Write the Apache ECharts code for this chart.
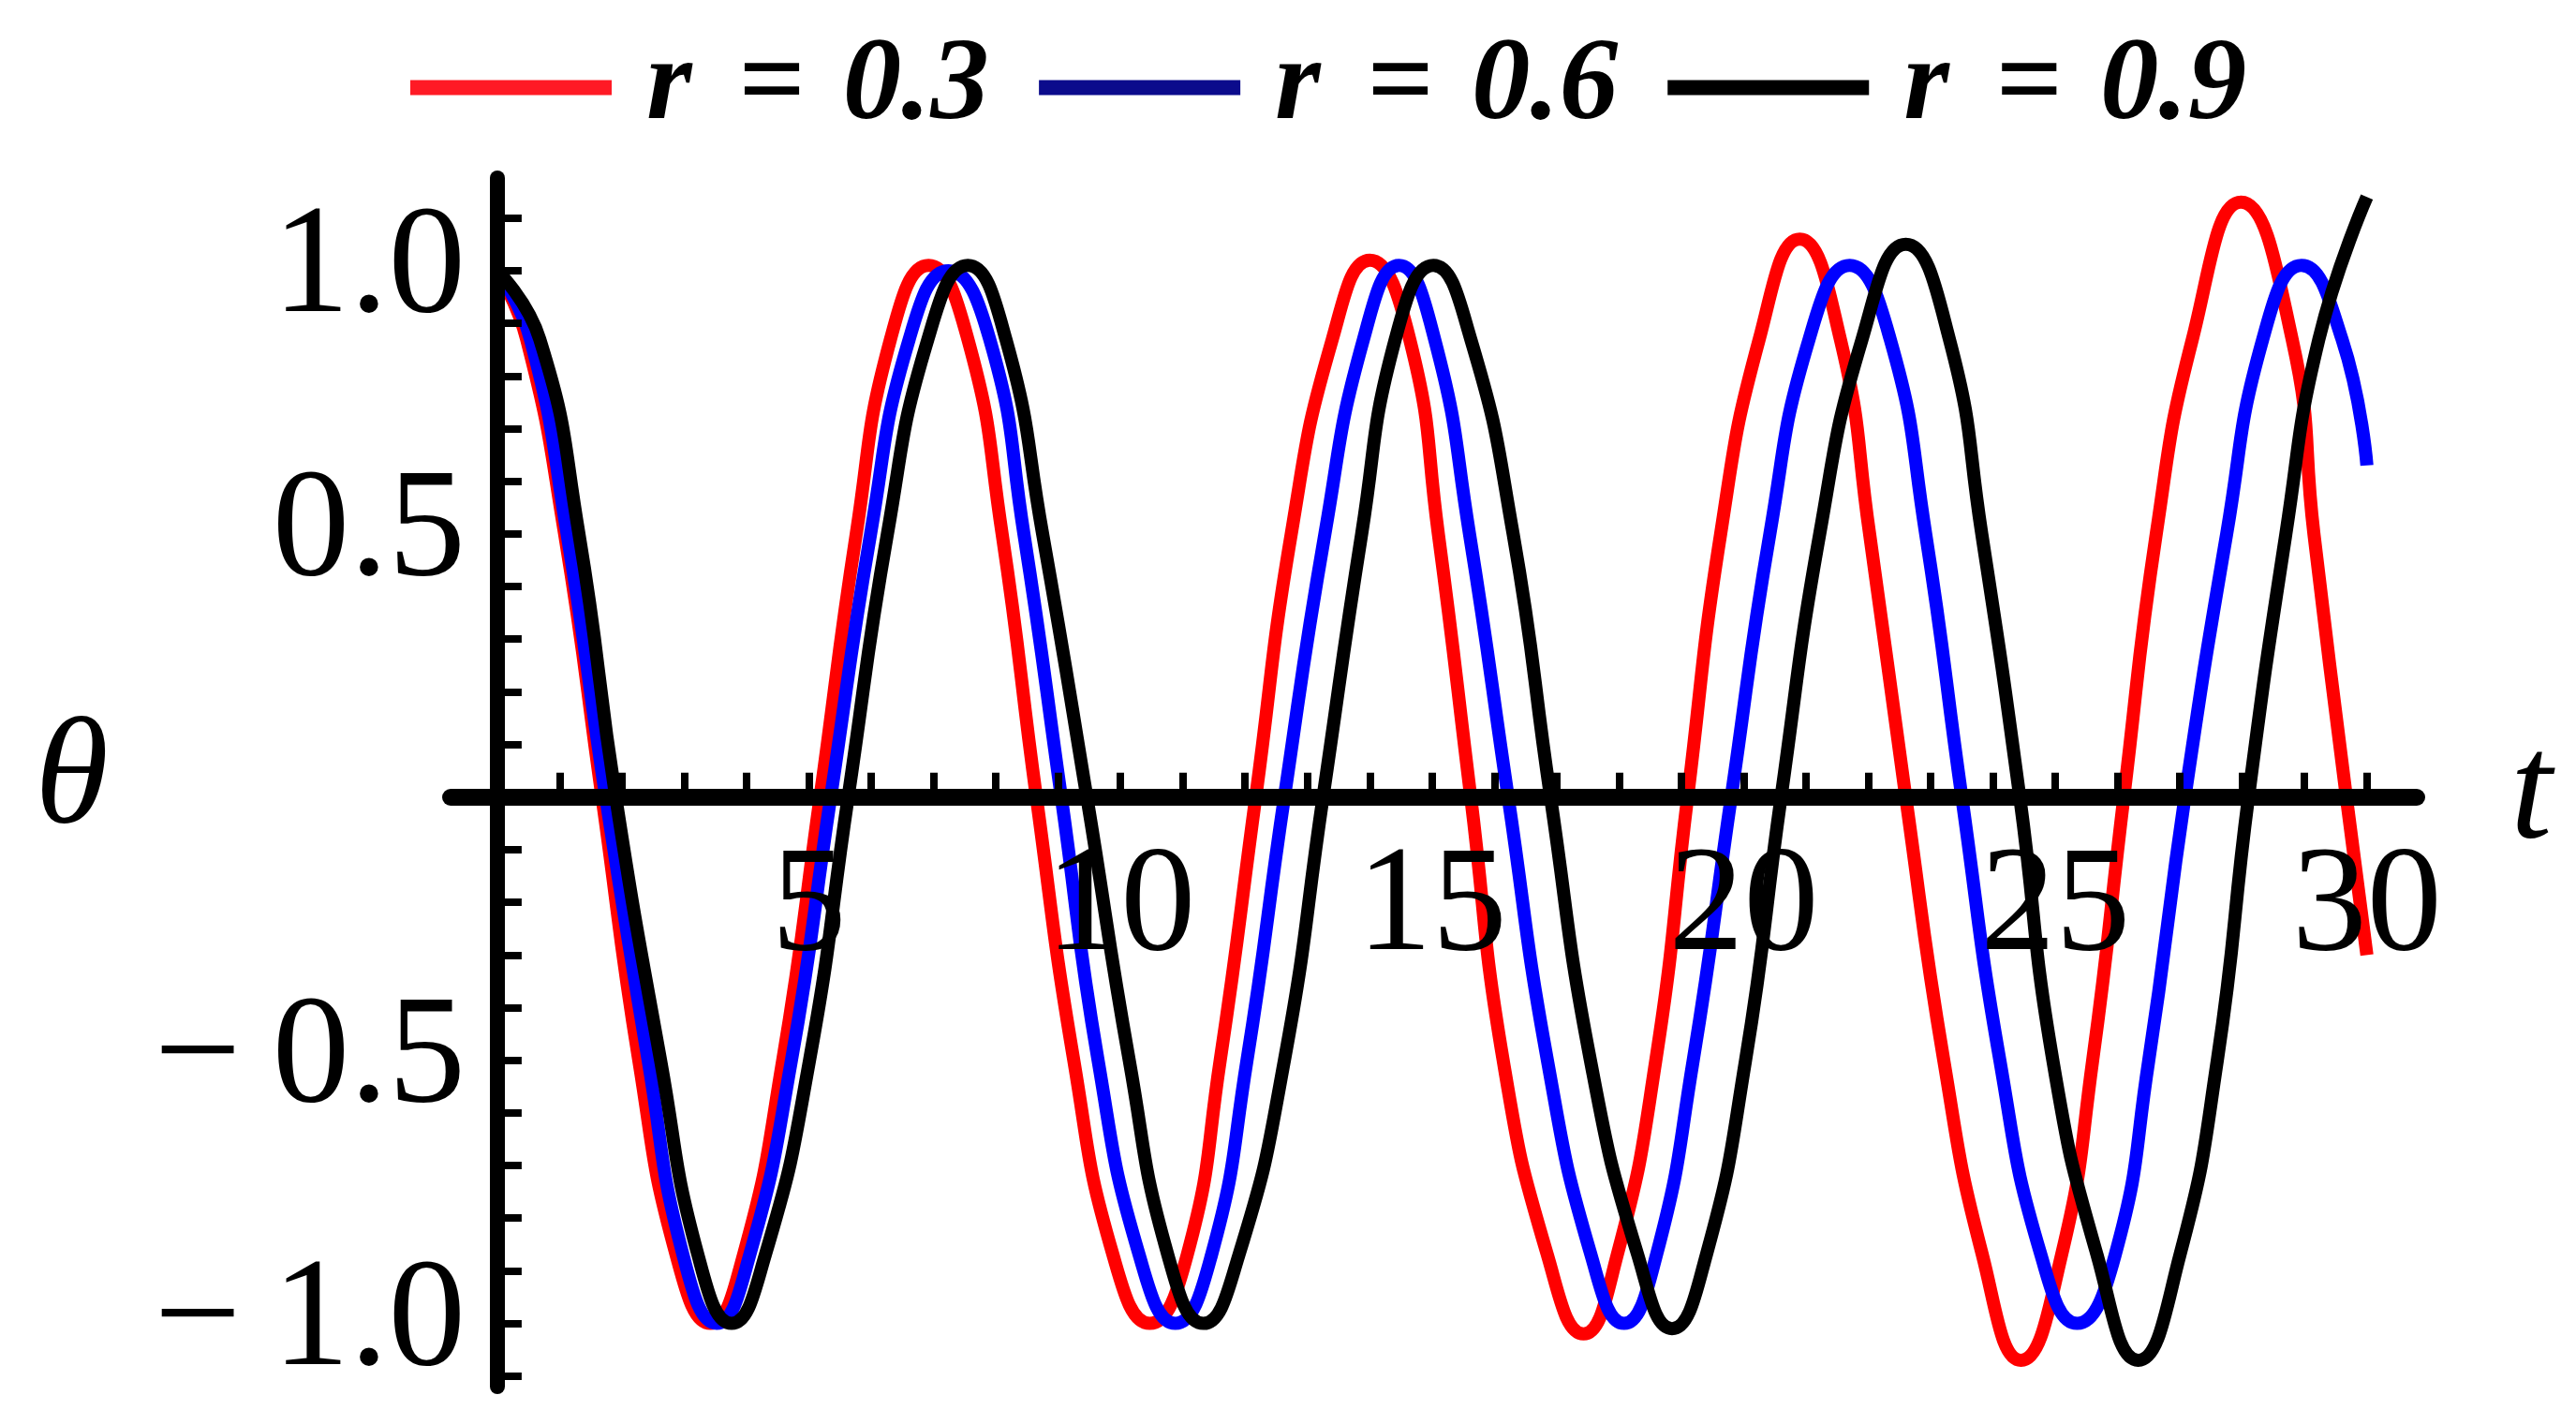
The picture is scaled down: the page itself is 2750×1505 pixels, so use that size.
<!DOCTYPE html>
<html><head><meta charset="utf-8">
<script src="https://cdn.jsdelivr.net/npm/echarts@6/dist/echarts.min.js"></script>
<style>html,body{margin:0;padding:0;background:#fff}#c{width:2750px;height:1505px}</style>
</head><body><div id="c"></div><script>
// legend values of r
const rValues = ['0.3', '0.6', '0.9'];
const seriesColors = ['#ff0000', '#0000ff', '#000000'];
const legendColors = ['#ff1a25', '#0b0b8c', '#000000'];

// r = 0.3
const tR03 = [0, 0.47, 1.08, 1.68, 2.27, 2.87, 3.42, 3.95, 4.58, 5.18, 5.76, 6.31, 6.92, 7.55, 8.10, 8.65, 9.25, 9.88, 10.47, 11.07, 11.6, 12.17, 12.74, 13.4, 14.0, 14.64, 15.1, 15.62, 16.14, 16.85, 17.43, 17.97, 18.59, 19.1, 19.63, 20.25, 20.9, 21.55, 22.02, 22.6, 23.21, 23.83, 24.45, 25.1, 25.6, 26.1, 26.62, 27.2, 27.98, 28.8, 29.15, 29.67, 30.0];
const thR03 = [1.0, 0.87, 0.5, 0, -0.5, -0.87, -1.0, -0.87, -0.5, 0, 0.5, 0.87, 1.01, 0.87, 0.5, 0, -0.5, -0.87, -1.0, -0.87, -0.5, 0, 0.5, 0.87, 1.02, 0.87, 0.5, 0, -0.5, -0.87, -1.02, -0.87, -0.5, 0, 0.5, 0.87, 1.06, 0.87, 0.5, 0, -0.5, -0.87, -1.07, -0.87, -0.5, 0, 0.5, 0.87, 1.13, 0.87, 0.5, 0, -0.30];
// r = 0.6
const tR06 = [0, 0.53, 1.12, 1.74, 2.42, 2.98, 3.52, 4.05, 4.72, 5.35, 5.99, 6.61, 7.24, 7.9, 8.45, 9.05, 9.64, 10.3, 10.88, 11.46, 12.03, 12.63, 13.28, 13.9, 14.47, 15.04, 15.6, 16.22, 16.85, 17.55, 18.08, 18.6, 19.19, 19.8, 20.42, 21.05, 21.7, 22.35, 22.92, 23.5, 24.11, 24.77, 25.35, 25.96, 26.5, 27.08, 27.75, 28.33, 28.95, 29.6, 30.0];
const thR06 = [1.0, 0.87, 0.5, 0, -0.5, -0.87, -1.0, -0.87, -0.5, 0, 0.5, 0.87, 1.0, 0.87, 0.5, 0, -0.5, -0.87, -1.0, -0.87, -0.5, 0, 0.5, 0.87, 1.01, 0.87, 0.5, 0, -0.5, -0.87, -1.0, -0.87, -0.5, 0, 0.5, 0.87, 1.01, 0.87, 0.5, 0, -0.5, -0.87, -1.0, -0.87, -0.5, 0, 0.5, 0.87, 1.01, 0.87, 0.63];
// r = 0.9
const tR09 = [0, 0.68, 1.31, 1.9, 2.62, 3.22, 3.76, 4.3, 5.01, 5.63, 6.26, 6.91, 7.55, 8.16, 8.75, 9.46, 10.14, 10.76, 11.33, 11.9, 12.63, 13.25, 13.87, 14.41, 15.02, 15.62, 16.3, 16.9, 17.54, 18.3, 18.85, 19.4, 20.03, 20.6, 21.22, 21.9, 22.6, 23.3, 23.82, 24.43, 24.96, 25.67, 26.33, 27.0, 27.6, 28.1, 28.7, 29.23, 30.0];
const thR09 = [1.0, 0.87, 0.5, 0, -0.5, -0.87, -1.0, -0.87, -0.5, 0, 0.5, 0.87, 1.01, 0.87, 0.5, 0, -0.5, -0.87, -1.0, -0.87, -0.5, 0, 0.5, 0.87, 1.01, 0.87, 0.5, 0, -0.5, -0.87, -1.01, -0.87, -0.5, 0, 0.5, 0.87, 1.05, 0.87, 0.5, 0, -0.5, -0.87, -1.07, -0.87, -0.5, 0, 0.5, 0.87, 1.14];

// axis ticks and labels
const xTickValues = [1, 2, 3, 4, 5, 6, 7, 8, 9, 10, 11, 12, 13, 14, 15, 16, 17, 18, 19, 20, 21, 22, 23, 24, 25, 26, 27, 28, 29, 30];
const xLabelValues = [5, 10, 15, 20, 25, 30];
const yTickValues = [-1.1, -1.0, -0.9, -0.8, -0.7, -0.6, -0.5, -0.4, -0.3, -0.2, -0.1, 0.1, 0.2, 0.3, 0.4, 0.5, 0.6, 0.7, 0.8, 0.9, 1.0, 1.1];
const yLabelValues = [-1.0, -0.5, 0.5, 1.0];

const FONT = "'Liberation Serif', 'Times New Roman', serif";
const tArrays = [tR03, tR06, tR09];
const thArrays = [thR03, thR06, thR09];
const names = rValues.map(v => 'r = ' + v);

// layout: grid box and the pixel offsets that put each axis line through the other axis' zero
const GRID = {left: 481, right: 170, top: 190, bottom: 25};
const X_MIN = -0.75, X_MAX = 30.8, Y_MIN = -1.12, Y_MAX = 1.176;
const H = 1505 - GRID.top - GRID.bottom, W = 2750 - GRID.left - GRID.right;
const xAxisOffset = -H * (0 - Y_MIN) / (Y_MAX - Y_MIN);
const yAxisOffset = -W * (0 - X_MIN) / (X_MAX - X_MIN);

const chart = echarts.init(document.getElementById('c'), null, {renderer: 'canvas'});
chart.setOption({
  animation: false,
  backgroundColor: '#ffffff',
  grid: {left: GRID.left, right: GRID.right, top: GRID.top, bottom: GRID.bottom, containLabel: false, outerBoundsMode: 'none'},
  legend: {
    show: true,
    left: 433, top: 26,
    orient: 'horizontal',
    icon: 'rect',
    itemWidth: 215, itemHeight: 16, itemGap: 53,
    data: names.map((n, i) => ({name: n, itemStyle: {color: legendColors[i]}})),
    formatter: function (name) {
      const v = name.split('= ')[1];
      return '{r|r}{e|=}{n|' + v + '}';
    },
    textStyle: {
      rich: {
        r: {fontFamily: FONT, fontStyle: 'italic', fontWeight: 'bold', fontSize: 125, color: '#000', padding: [0, 50, 0, 32], lineHeight: 130},
        e: {fontFamily: FONT, fontWeight: 'bold', fontSize: 125, color: '#000', padding: [0, 40, 0, 0], lineHeight: 130},
        n: {fontFamily: FONT, fontStyle: 'italic', fontWeight: 'bold', fontSize: 125, color: '#000', lineHeight: 130}
      }
    }
  },
  xAxis: {
    type: 'value', min: X_MIN, max: X_MAX, z: 5,
    position: 'bottom', offset: xAxisOffset,
    name: 't', nameLocation: 'end', nameGap: 100,
    nameTextStyle: {fontFamily: FONT, fontStyle: 'italic', fontSize: 160, color: '#000'},
    axisLine: {show: true, onZero: false, lineStyle: {color: '#000', width: 18}},
    axisTick: {show: true, inside: true, length: 26, customValues: xTickValues, lineStyle: {color: '#000', width: 8}},
    axisLabel: {show: true, customValues: xLabelValues, margin: 40, fontFamily: FONT, fontSize: 160, color: '#000',
      formatter: v => String(v)},
    splitLine: {show: false}
  },
  yAxis: {
    type: 'value', min: Y_MIN, max: Y_MAX, z: 5,
    position: 'left', offset: yAxisOffset,
    name: 'θ', nameLocation: 'middle', nameRotate: 0, nameGap: 415,
    nameTextStyle: {fontFamily: FONT, fontStyle: 'italic', fontSize: 160, color: '#000'},
    axisLine: {show: true, onZero: false, lineStyle: {color: '#000', width: 16}},
    axisTick: {show: true, inside: true, length: 26, customValues: yTickValues, lineStyle: {color: '#000', width: 8}},
    axisLabel: {show: true, customValues: yLabelValues, margin: 34, fontFamily: FONT, fontSize: 165, color: '#000',
      formatter: v => (v < 0 ? '\u2212\u2009' : '') + Math.abs(v).toFixed(1)},
    splitLine: {show: false}
  },
  series: names.map((n, i) => ({
    name: n,
    type: 'line',
    smooth: 0.5,
    showSymbol: false,
    symbol: 'none',
    clip: false,
    z: 2,
    itemStyle: {color: seriesColors[i]},
    lineStyle: {color: seriesColors[i], width: 14},
    data: tArrays[i].map((t, k) => [t, thArrays[i][k]])
  }))
});
</script></body></html>
